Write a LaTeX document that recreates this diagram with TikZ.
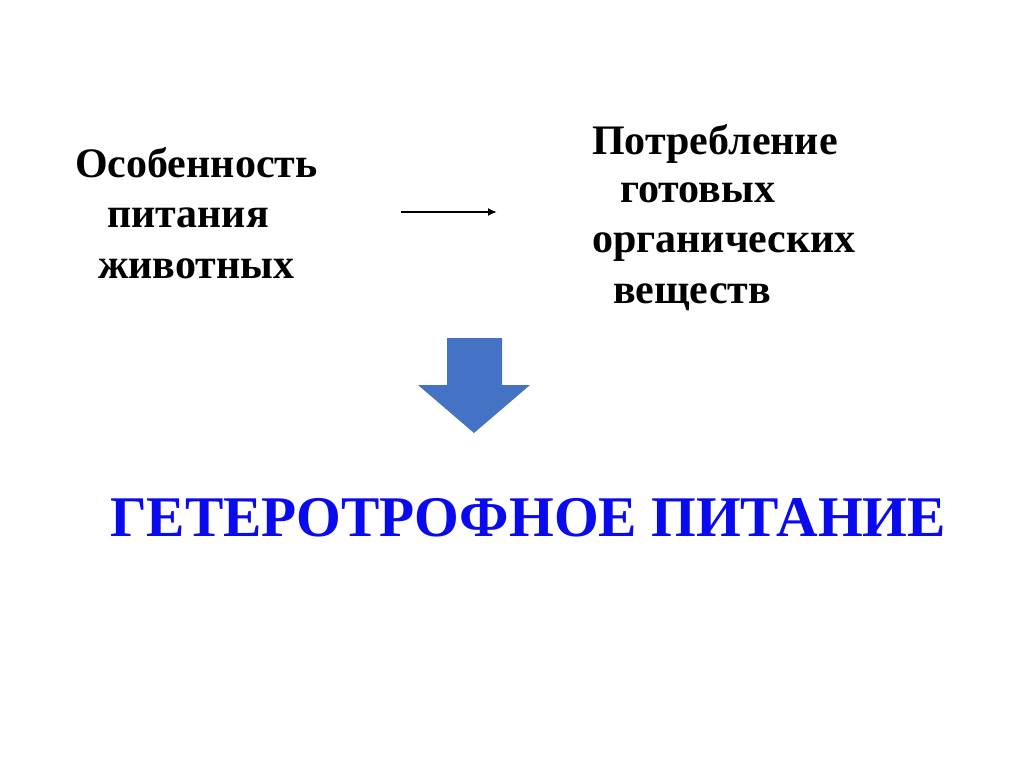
\documentclass[tikz,border=0pt]{standalone}
\usetikzlibrary{arrows.meta}
\usepackage{fontspec}
\setmainfont{Liberation Serif}
\definecolor{arrowblue}{HTML}{4472C4}
\definecolor{titleblue}{HTML}{0A0AEE}
\begin{document}
\begin{tikzpicture}[x=1pt,y=-1pt,
  txt/.style={anchor=base west,inner sep=0pt,font=\fontsize{42}{50}\selectfont\bfseries},
  ttl/.style={anchor=base west,inner sep=0pt,text=titleblue,font=\fontsize{57.5}{66}\selectfont\bfseries}]
\useasboundingbox (0,0) rectangle (1024,767);
\fill[white] (0,0) rectangle (1024,767);
% left text
\node[txt] (l1) at (75,178) {Особенность};
\node[txt] (l2) at (107,227) {питания};
\node[txt] (l3) at (98,278) {животных};
% right text
\node[txt] (r1) at (592,155) {Потребление};
\node[txt] (r2) at (620,203) {готовых};
\node[txt] (r3) at (592,252) {органических};
\node[txt] (r4) at (613,303) {веществ};
% thin arrow
\coordinate (as) at (401,212);
\coordinate (ae) at (497,212);
\draw[line width=2.2pt,-{Latex[length=9pt,width=8pt]}] (as) -- (ae);
% block arrow
\fill[arrowblue] (447,338) -- (502,338) -- (502,385) -- (530,385) -- (474,433) -- (418,385) -- (447,385) -- cycle;
% title
\node[ttl] (t) at (110,536) {ГЕТЕРОТРОФНОЕ ПИТАНИЕ};
\end{tikzpicture}
\end{document}
